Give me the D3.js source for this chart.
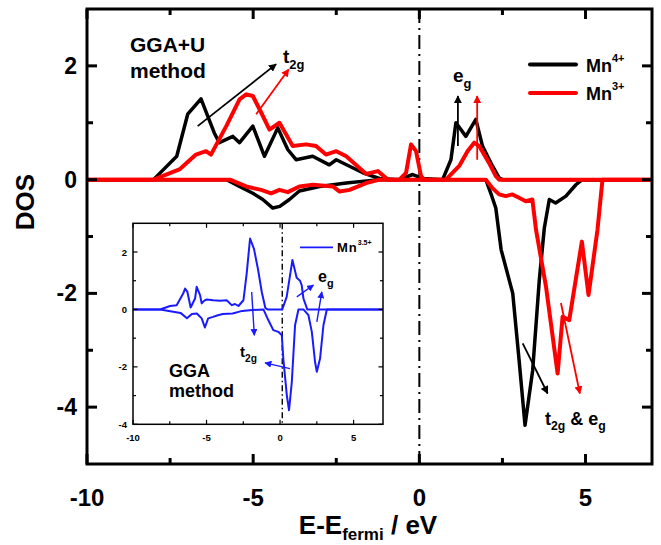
<!DOCTYPE html>
<html lang="en">
<head>
  <meta charset="UTF-8"/>
  <title>DOS Mn</title>
  <style>
    *{margin:0;padding:0}
    body{background:#fff}
    svg{display:block;font-family:"Liberation Sans",Arial,sans-serif;font-weight:bold}
  </style>
</head>
<body>
  <div id="chart"></div>
  <script src="https://d3js.org/d3.v7.min.js"></script>
  <script>
    // main panel: GGA+U, [E, DOS]
    const mn4Up = [[-10,0],[-8.0,0],[-7.3,0.41],[-6.97,1.15],[-6.57,1.42],[-6.17,0.82],[-6.02,0.65],[-5.61,0.76],[-5.41,0.65],[-5.01,0.94],[-4.66,0.41],[-4.26,0.91],[-3.96,0.53],[-3.71,0.35],[-3.21,0.41],[-2.71,0.26],[-2.5,0.35],[-1.7,0.12],[-1.2,0.02],[-0.6,0],[-0.2,0.09],[0.1,0.02],[0.7,0],[0.95,0.35],[1.1,1.0],[1.4,0.76],[1.7,1.06],[1.9,0.59],[2.2,0.24],[2.4,0.03],[2.5,0],[7,0]];
    const mn4Dn = [[-10,0],[-5.8,0],[-5.41,-0.12],[-5.01,-0.24],[-4.71,-0.35],[-4.41,-0.5],[-4.2,-0.47],[-3.91,-0.35],[-3.61,-0.2],[-3.0,-0.12],[-2.2,-0.06],[-1.2,0],[2.0,0],[2.15,-0.24],[2.3,-0.5],[2.46,-1.23],[2.81,-2.0],[3.0,-3.17],[3.18,-4.32],[3.41,-3.35],[3.61,-1.76],[3.76,-0.85],[3.91,-0.35],[4.1,-0.41],[4.41,-0.29],[4.71,-0.09],[4.9,0],[7,0]];
    const mn3Up = [[-10,0],[-8.0,0],[-7.22,0.18],[-6.72,0.44],[-6.42,0.5],[-6.27,0.44],[-5.81,0.94],[-5.41,1.41],[-5.21,1.5],[-5.01,1.47],[-4.76,1.18],[-4.51,0.88],[-4.21,1.0],[-3.81,0.59],[-3.41,0.62],[-3.11,0.59],[-2.81,0.44],[-2.5,0.5],[-2.2,0.41],[-1.6,0.1],[-1.25,0.15],[-0.95,0],[-0.6,0],[-0.4,0.12],[-0.25,0.62],[-0.1,0.5],[0.05,0.06],[0.15,0],[0.8,0],[1.2,0.24],[1.45,0.5],[1.65,0.65],[1.8,0.59],[2.1,0.29],[2.3,0.06],[2.4,0],[7,0]];
    const mn3Dn = [[-10,0],[-5.7,0],[-5.21,-0.12],[-4.76,-0.18],[-4.46,-0.24],[-4.21,-0.18],[-3.96,-0.22],[-3.61,-0.12],[-3.2,-0.09],[-2.6,-0.12],[-2.4,-0.21],[-2.1,-0.18],[-1.6,-0.06],[-1.2,0],[2.0,0],[2.2,-0.15],[2.4,-0.26],[2.6,-0.29],[2.8,-0.26],[3.0,-0.32],[3.2,-0.38],[3.4,-0.35],[3.51,-0.88],[3.81,-1.88],[4.16,-3.41],[4.31,-2.41],[4.51,-2.47],[4.89,-1.09],[5.09,-2.03],[5.36,-0.88],[5.51,0],[7,0]];

    // inset: GGA, Mn3.5+
    const mn35Up = [[-10,0],[-8.16,0],[-7.48,0.12],[-7.03,0.15],[-6.58,0.56],[-6.46,0.73],[-6.3,0.61],[-6.08,0.07],[-5.78,0.38],[-5.67,0.79],[-5.44,0.5],[-5.33,0.21],[-5.17,0.3],[-4.99,0.35],[-4.54,0.32],[-4.08,0.3],[-3.63,0.32],[-3.29,0.15],[-3.06,0.19],[-2.83,0.12],[-2.49,0.32],[-2.27,1.25],[-2.04,2.47],[-1.77,2.1],[-1.5,1.4],[-1.24,0.6],[-1.0,0.05],[-0.85,0],[0.15,0],[0.45,0.44],[0.84,1.72],[1.13,1.1],[1.36,1.0],[1.47,0.85],[1.59,0.38],[1.85,0],[7,0]];
    const mn35Dn = [[-10,0],[-8.16,0],[-6.77,-0.12],[-6.33,-0.31],[-6.0,-0.16],[-5.66,-0.14],[-5.33,-0.31],[-5.11,-0.63],[-4.89,-0.31],[-4.56,-0.26],[-4.23,-0.2],[-3.89,-0.16],[-3.23,-0.14],[-2.57,-0.05],[-1.9,-0.02],[-1.13,0],[-0.8,-0.37],[-0.46,-0.72],[-0.12,-0.78],[0.12,-0.9],[0.22,-1.71],[0.46,-2.99],[0.61,-3.51],[0.8,-2.52],[1.02,-0.55],[1.25,0],[1.59,0],[1.93,-0.2],[2.16,-0.78],[2.38,-1.83],[2.5,-2.17],[2.72,-1.71],[2.95,-0.55],[3.18,0],[7,0]];

    const xTicks = [-10,-5,0,5], xMinor = [-7.5,-2.5,2.5];
    const yTicks = [-4,-2,0,2],  yMinor = [-3,-1,1];
    const iyTicks = [-4,-2,0,2], iyMinor = [-3,-1,1];

    // annotation arrows in data units [x1,y1,x2,y2,color]
    const mainArrows = [
      [-6.67,0.94,-4.31,2.03,'#000'],[-4.91,1.15,-3.93,1.94,'#f00'],
      [1.16,0.59,1.16,1.47,'#000'],[1.74,0.35,1.74,1.47,'#f00'],
      [3.11,-2.88,3.86,-3.76,'#000'],[4.26,-2.17,4.83,-3.76,'#f00']
    ];
    const insetArrows = [
      [-1.93,0.61,-1.75,-0.9],[0.68,-2.06,-1.02,-1.86],
      [1.14,0.44,2.27,0.85],[2.5,-0.43,2.84,0.61]
    ];

    const W = 661, H = 545;
    const x = d3.scaleLinear([-10,7],[87,652]);
    const y = d3.scaleLinear([-5,3],[464,9]);
    const ix = d3.scaleLinear([-10,7],[133,383]);
    const iy = d3.scaleLinear([-4,3],[424.3,223.3]);

    const svg = d3.select('#chart').append('svg').attr('width',W).attr('height',H);
    const defs = svg.append('defs');
    [['k','#000'],['r','#f00'],['b','#1a1aff']].forEach(([id,c])=>{
      defs.append('marker').attr('id','ah-'+id).attr('viewBox','0 0 10 10')
        .attr('refX',9).attr('refY',5).attr('markerWidth',id==='b'?7:8).attr('markerHeight',id==='b'?7:8)
        .attr('markerUnits','userSpaceOnUse').attr('orient','auto')
        .append('path').attr('d','M0,0L10,5L0,10z').attr('fill',c);
    });

    // inward ticks on all four sides
    function drawTicks(g, sx, sy, xt, xm, yt, ym, big, small, sw){
      const [x0,x1] = sx.range(), [y0,y1] = sy.range();
      const segs = [];
      xt.forEach(v=>{segs.push([sx(v),y0,sx(v),y0-big],[sx(v),y1,sx(v),y1+big]);});
      xm.forEach(v=>{segs.push([sx(v),y0,sx(v),y0-small],[sx(v),y1,sx(v),y1+small]);});
      yt.forEach(v=>{segs.push([x0,sy(v),x0+big,sy(v)],[x1,sy(v),x1-big,sy(v)]);});
      ym.forEach(v=>{segs.push([x0,sy(v),x0+small,sy(v)],[x1,sy(v),x1-small,sy(v)]);});
      g.selectAll(null).data(segs).join('line')
        .attr('x1',d=>d[0]).attr('y1',d=>d[1]).attr('x2',d=>d[2]).attr('y2',d=>d[3])
        .attr('stroke','#000').attr('stroke-width',sw);
    }

    const line = (sx,sy) => d3.line().x(d=>sx(d[0])).y(d=>sy(d[1]));

    // fermi level
    svg.append('line').attr('x1',x(0)).attr('x2',x(0)).attr('y1',y(3)).attr('y2',y(-5))
      .attr('stroke','#000').attr('stroke-width',2).attr('stroke-dasharray','14,5,2,5');

    const curves = svg.append('g').attr('fill','none').attr('stroke-linejoin','round');
    [[mn4Dn,'#000',3.5],[mn4Up,'#000',3.5],[mn3Dn,'#f00',4],[mn3Up,'#f00',4]].forEach(([d,c,w])=>{
      curves.append('path').datum(d).attr('d',line(x,y)).attr('stroke',c).attr('stroke-width',w);
    });

    // main frame + ticks
    svg.append('rect').attr('x',x(-10)).attr('y',y(3)).attr('width',x(7)-x(-10)).attr('height',y(-5)-y(3))
      .attr('fill','none').attr('stroke','#000').attr('stroke-width',3);
    drawTicks(svg.append('g'), x, y, xTicks, xMinor, yTicks, yMinor, 10, 6, 3);

    svg.append('g').selectAll('text').data(xTicks).join('text')
      .attr('x',d=>x(d)).attr('y',506).attr('text-anchor','middle').attr('font-size',24).text(d=>d);
    svg.append('g').selectAll('text').data(yTicks).join('text')
      .attr('x',77).attr('y',d=>y(d)+8).attr('text-anchor','end').attr('font-size',23).text(d=>d);

    svg.append('text').attr('transform','translate(34,202) rotate(-90)').attr('text-anchor','middle')
      .attr('font-size',26).text('DOS');
    const xl = svg.append('text').attr('x',368).attr('y',534).attr('text-anchor','middle').attr('font-size',26);
    xl.append('tspan').text('E-E');
    xl.append('tspan').attr('font-size',17).attr('dy',6).text('fermi');
    xl.append('tspan').attr('dy',-6).text(' / eV');

    // main arrows
    svg.append('g').selectAll('line').data(mainArrows).join('line')
      .attr('x1',d=>x(d[0])).attr('y1',d=>y(d[1])).attr('x2',d=>x(d[2])).attr('y2',d=>y(d[3]))
      .attr('stroke',d=>d[4]).attr('stroke-width',1.8)
      .attr('marker-end',d=>d[4]==='#000'?'url(#ah-k)':'url(#ah-r)');

    // main labels
    svg.append('text').attr('x',130).attr('y',52).attr('font-size',21).text('GGA+U');
    svg.append('text').attr('x',130).attr('y',78).attr('font-size',21).text('method');
    function sub(g,px,py,base,s,fs,extra){
      const t = g.append('text').attr('x',px).attr('y',py).attr('font-size',fs);
      t.append('tspan').text(base);
      t.append('tspan').attr('font-size',fs*0.68).attr('dy',fs*0.3).text(s);
      if(extra){
        t.append('tspan').attr('dy',-fs*0.3).text(extra[0]);
        t.append('tspan').attr('font-size',fs*0.68).attr('dy',fs*0.3).text(extra[1]);
      }
      return t;
    }
    sub(svg,283,63,'t','2g',19);
    sub(svg,453,82,'e','g',19);
    sub(svg,545,425,'t','2g',18,[' & e','g']);

    // legend
    const leg = [['Mn','4+','#000',64.5],['Mn','3+','#f00',93]];
    leg.forEach(([a,b,c,ly])=>{
      svg.append('line').attr('x1',530).attr('x2',576).attr('y1',ly).attr('y2',ly)
        .attr('stroke',c).attr('stroke-width',4).attr('stroke-linecap','round');
      const t = svg.append('text').attr('x',586).attr('y',ly+7).attr('font-size',18);
      t.append('tspan').text(a);
      t.append('tspan').attr('font-size',11).attr('dy',-10).text(b);
    });

    // ---- inset ----
    const ins = svg.append('g');
    ins.append('rect').attr('x',ix(-10)).attr('y',iy(3)).attr('width',ix(7)-ix(-10)).attr('height',iy(-4)-iy(3))
      .attr('fill','#fff').attr('stroke','none');
    ins.append('line').attr('x1',ix(0.15)).attr('x2',ix(0.15)).attr('y1',iy(3)).attr('y2',iy(-4))
      .attr('stroke','#000').attr('stroke-width',1.4).attr('stroke-dasharray','6,3,1.5,3');
    [mn35Up,mn35Dn].forEach(d=>{
      ins.append('path').datum(d).attr('d',line(ix,iy)).attr('fill','none')
        .attr('stroke','#1a1aff').attr('stroke-width',2).attr('stroke-linejoin','round');
    });
    ins.append('rect').attr('x',ix(-10)).attr('y',iy(3)).attr('width',ix(7)-ix(-10)).attr('height',iy(-4)-iy(3))
      .attr('fill','none').attr('stroke','#000').attr('stroke-width',1.5);
    drawTicks(ins.append('g'), ix, iy, xTicks, xMinor, iyTicks, iyMinor, 4.5, 3, 1.2);
    ins.append('g').selectAll('text').data(xTicks).join('text')
      .attr('x',d=>ix(d)).attr('y',441).attr('text-anchor','middle').attr('font-size',9.5).text(d=>d);
    ins.append('g').selectAll('text').data(iyTicks).join('text')
      .attr('x',127).attr('y',d=>iy(d)+3.5).attr('text-anchor','end').attr('font-size',9.5).text(d=>d);

    ins.append('g').selectAll('line').data(insetArrows).join('line')
      .attr('x1',d=>ix(d[0])).attr('y1',d=>iy(d[1])).attr('x2',d=>ix(d[2])).attr('y2',d=>iy(d[3]))
      .attr('stroke','#1a1aff').attr('stroke-width',1.4).attr('marker-end','url(#ah-b)');

    ins.append('text').attr('x',169).attr('y',377).attr('font-size',18).text('GGA');
    ins.append('text').attr('x',169).attr('y',397).attr('font-size',18).text('method');
    sub(ins,240,357,'t','2g',15);
    sub(ins,318,282,'e','g',16);

    ins.append('line').attr('x1',300).attr('x2',333).attr('y1',247.3).attr('y2',247.3)
      .attr('stroke','#1a1aff').attr('stroke-width',1.8);
    const il = ins.append('text').attr('x',337).attr('y',252).attr('font-size',13).attr('letter-spacing',1);
    il.append('tspan').text('Mn');
    il.append('tspan').attr('font-size',7).attr('dy',-7).attr('letter-spacing',0).text('3.5+');
  </script>
</body>
</html>
